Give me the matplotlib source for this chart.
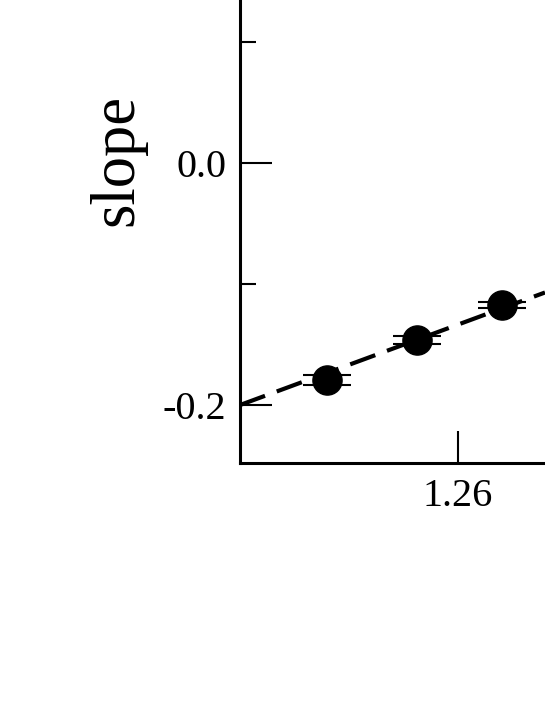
import numpy as np
import matplotlib
matplotlib.use("Agg")
import matplotlib.pyplot as plt

# data
x = [1.24693, 1.25587, 1.26443]
slope = [-0.1793, -0.1463, -0.1174]
slope_err = [0.0045, 0.0033, 0.0025]

# linear fit drawn as dashed line
fit_x = [1.2382, 1.2687]
fit_y = [-0.2000, -0.1070]

plt.rcParams['font.family'] = ['Liberation Serif', 'DejaVu Serif']

fig = plt.figure(figsize=(5.45, 7.05), dpi=100)
# axes is cut off at the top and right edge of the figure
ax = fig.add_axes([240 / 545, 242 / 705, 600 / 545, 600 / 705])

ax.plot(fit_x, fit_y, color='black', lw=3.0, linestyle=(0, (6.4, 3.0)), zorder=2)
ax.errorbar(x, slope, yerr=slope_err, fmt='o', color='black', ms=21,
            capsize=17, capthick=1.5, elinewidth=1.5, zorder=3)

ax.set_xlim(1.2382, 1.2982)
ax.set_ylim(-0.2479, 0.2479)

ax.set_xticks([1.26])
ax.set_xticklabels(['1.26'])
ax.set_yticks([-0.2, 0.0])
ax.set_yticklabels(['-0.2', '0.0'])
ax.set_yticks([-0.1, 0.1], minor=True)

ax.tick_params(axis='both', which='major', direction='in', length=23, width=1.5,
               labelsize=29)
ax.tick_params(axis='y', which='major', pad=10)
ax.tick_params(axis='x', which='major', pad=11)
ax.tick_params(axis='y', which='minor', direction='in', length=11.5, width=1.5)
ax.tick_params(right=False, top=False)

for s in ax.spines.values():
    s.set_linewidth(2.2)

fig.text(117 / 545, 1 - 160 / 705, 'slope', rotation=90, ha='center',
         va='center', fontsize=45)

fig.savefig('out.png', dpi=100)
